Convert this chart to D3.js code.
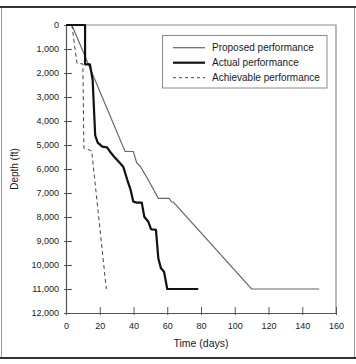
<!DOCTYPE html>
<html>
<head>
<meta charset="utf-8">
<script src="https://cdn.jsdelivr.net/npm/d3@7"></script>
<style>
  html, body { margin: 0; padding: 0; background: #fff; }
  svg { display: block; }
  text { font-family: "Liberation Sans", Arial, Helvetica, sans-serif; }
</style>
</head>
<body>
<svg id="chart" width="356" height="364"></svg>
<script>
// ---- data ----
const xTicks = [0, 20, 40, 60, 80, 100, 120, 140, 160];
const yTicks = [0, 1000, 2000, 3000, 4000, 5000, 6000, 7000, 8000, 9000, 10000, 11000, 12000];

const proposedDays  = [0, 3.5, 35.0, 39.9, 41.9, 43.9, 48.8, 54.7, 61.0, 62.6, 63.6, 110, 150];
const proposedDepth = [0, 0, 5270, 5270, 5750, 5875, 6460, 7220, 7220, 7375, 7375, 11000, 11000];

const actualDays  = [0, 11.3, 11.3, 14.2, 15.8, 17.3, 18.8, 21.5, 24.3, 26.0, 28.4, 31.0, 34.0, 36.3, 38.3, 39.9, 41.9, 44.9, 46.4, 48.8, 50.4, 53.3, 54.7, 56.3, 58.1, 60.0, 78.4];
const actualDepth = [0, 0, 1640, 1640, 2300, 4600, 4900, 5070, 5100, 5270, 5480, 5680, 5920, 6450, 6870, 7360, 7400, 7400, 7990, 8200, 8510, 8540, 9720, 10140, 10280, 11000, 11000];

const achievableDays  = [3.5, 6.5, 10.0, 10.6, 15.2, 23.9];
const achievableDepth = [0, 1600, 1620, 5130, 5240, 11000];

const legendLabels = ["Proposed performance", "Actual performance", "Achievable performance"];

// ---- layout ----
const svg = d3.select("#chart");
const W = 356, H = 364;
const m = { left: 66, right: 20, top: 25, bottom: 51 };
const x = d3.scaleLinear().domain([0, 160]).range([m.left, W - m.right]);
const y = d3.scaleLinear().domain([0, 12000]).range([m.top, H - m.bottom]);

// outer frame
svg.append("rect").attr("x", 1.5).attr("y", 7).attr("width", 353).attr("height", 351)
  .attr("fill", "none").attr("stroke", "#9a9a9a").attr("stroke-width", 1);
svg.append("line").attr("x1", 0).attr("x2", W).attr("y1", 7).attr("y2", 7)
  .attr("stroke", "#333").attr("stroke-width", 2);
svg.append("line").attr("x1", 0).attr("x2", W).attr("y1", 358).attr("y2", 358)
  .attr("stroke", "#333").attr("stroke-width", 2);

// plot frame (top & right)
svg.append("path")
  .attr("d", `M${x(0)},${y(0)}H${x(160)}V${y(12000)}`)
  .attr("fill", "none").attr("stroke", "#8a8a8a").attr("stroke-width", 1.2);

// axes
const fmt = d3.format(",");
const xAxis = d3.axisBottom(x).tickValues(xTicks).tickSizeInner(-6).tickSizeOuter(0).tickPadding(10);
const yAxis = d3.axisLeft(y).tickValues(yTicks).tickFormat(d => fmt(d)).tickSizeInner(-6).tickSizeOuter(0).tickPadding(7);

const gx = svg.append("g").attr("transform", `translate(0,${y(12000)})`).call(xAxis);
const gy = svg.append("g").attr("transform", `translate(${x(0)},0)`).call(yAxis);
[gx, gy].forEach(g => {
  g.select(".domain").attr("stroke", "#555").attr("stroke-width", 1.2);
  g.selectAll(".tick line").attr("stroke", "#555").attr("stroke-width", 1);
  g.selectAll(".tick text").attr("fill", "#222").attr("font-size", 9)
    .attr("font-family", "'Liberation Sans', Arial, sans-serif");
});
gy.selectAll(".tick line").attr("x1", -2);
gx.selectAll(".tick line").attr("y1", 2);

// axis titles
svg.append("text").attr("x", (x(0) + x(160)) / 2).attr("y", 347)
  .attr("text-anchor", "middle").attr("font-size", 10.5).attr("fill", "#1a1a1a").text("Time (days)");
svg.append("text").attr("transform", `translate(18,${(y(0) + y(12000)) / 2}) rotate(-90)`)
  .attr("text-anchor", "middle").attr("font-size", 10).attr("fill", "#1a1a1a").text("Depth (ft)");

// lines
const line = d3.line().x(d => x(d[0])).y(d => y(d[1]));
const zip = (a, b) => a.map((v, i) => [v, b[i]]);

svg.append("path").datum(zip(proposedDays, proposedDepth)).attr("d", line)
  .attr("fill", "none").attr("stroke", "#666").attr("stroke-width", 1.2);
svg.append("path").datum(zip(achievableDays, achievableDepth)).attr("d", line)
  .attr("fill", "none").attr("stroke", "#444").attr("stroke-width", 1).attr("stroke-dasharray", "4,3");
svg.append("path").datum(zip(actualDays, actualDepth)).attr("d", line)
  .attr("fill", "none").attr("stroke", "#111").attr("stroke-width", 2.2).attr("stroke-linejoin", "round");

// legend
const lg = svg.append("g");
lg.append("rect").attr("x", 162.5).attr("y", 35.5).attr("width", 164.5).attr("height", 52.5)
  .attr("fill", "#fff").attr("stroke", "#8a8a8a").attr("stroke-width", 1);
const styles = [
  { stroke: "#666", w: 1.2, dash: null },
  { stroke: "#111", w: 2.2, dash: null },
  { stroke: "#444", w: 1, dash: "3,3" }
];
legendLabels.forEach((lab, i) => {
  const yy = 47.7 + i * 15;
  lg.append("line").attr("x1", 173).attr("x2", 205).attr("y1", yy).attr("y2", yy)
    .attr("stroke", styles[i].stroke).attr("stroke-width", styles[i].w)
    .attr("stroke-dasharray", styles[i].dash);
  lg.append("text").attr("x", 212).attr("y", yy + 3.5).attr("font-size", 10).attr("fill", "#1a1a1a").text(lab);
});
</script>
</body>
</html>
